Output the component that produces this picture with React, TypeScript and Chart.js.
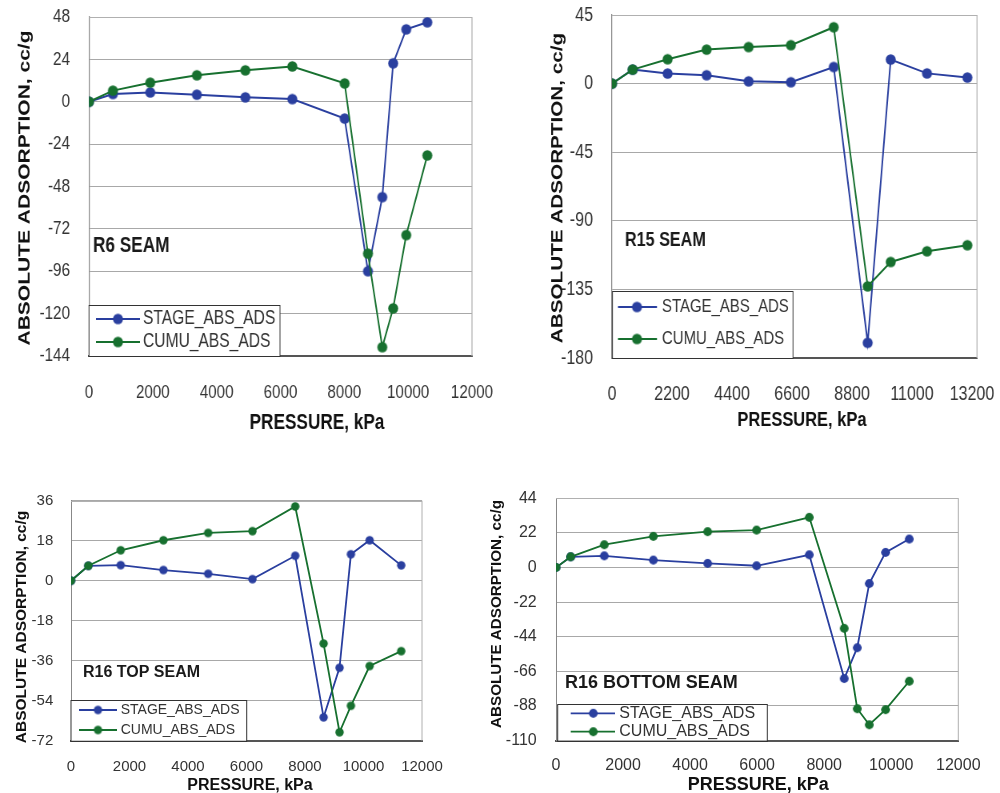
import React, { useEffect, useRef } from 'react';
import { Chart, registerables } from 'chart.js';

Chart.register(...registerables);

// ---------- DATA ----------
const r6Pressure = [0, 750, 1920, 3380, 4900, 6370, 8010, 8740, 9190, 9530, 9940, 10600];
const r6Stage = [0, 4.4, 5.3, 4, 2.5, 1.5, -9.5, -96, -54, 21.8, 41, 45];
const r6Cumu = [0, 6.3, 10.8, 15, 17.8, 20, 10.4, -86, -139, -117, -75.5, -30.4];

const r15Pressure = [0, 758, 2040, 3470, 5010, 6560, 8130, 9375, 10220, 11550, 13030];
const r15Stage = [0, 9.2, 6.6, 5.5, 1.5, 0.9, 10.9, -170, 15.8, 6.7, 4.0];
const r15Cumu = [0, 9.2, 16, 22.3, 24, 25.2, 37, -133, -117, -110, -106];

const r16TopPressure = [0, 593, 1700, 3160, 4690, 6205, 7665, 8635, 9180, 9570, 10210, 11290];
const r16TopStage = [0, 6.7, 7.0, 4.8, 3.1, 0.7, 11.2, -61.5, -39.2, 11.9, 18.2, 6.9];
const r16TopCumu = [0, 6.7, 13.7, 18.2, 21.5, 22.3, 33.4, -28.3, -68.2, -56.3, -38.4, -31.7];

const r16BotPressure = [0, 437, 1441, 2903, 4523, 5984, 7555, 8598, 8986, 9344, 9831, 10537];
const r16BotStage = [0, 6.8, 7.4, 4.7, 2.6, 1.1, 8.1, -70.6, -51, -10.2, 9.6, 18.1];
const r16BotCumu = [0, 6.8, 14.5, 19.8, 22.8, 23.8, 31.9, -38.7, -89.8, -100, -90.4, -72.3];

// tick values
const xTicks12000 = [0, 2000, 4000, 6000, 8000, 10000, 12000];
const xTicks13200 = [0, 2200, 4400, 6600, 8800, 11000, 13200];
const r6YTicks = [-144, -120, -96, -72, -48, -24, 0, 24, 48];
const r15YTicks = [-180, -135, -90, -45, 0, 45];
const r16TopYTicks = [-72, -54, -36, -18, 0, 18, 36];
const r16BotYTicks = [-110, -88, -66, -44, -22, 0, 22, 44];

const seriesNames = ['STAGE_ABS_ADS', 'CUMU_ABS_ADS'];
const yTitleText = 'ABSOLUTE ADSORPTION, cc/g';
const xTitleText = 'PRESSURE, kPa';

// ---------- STYLE ----------
const BLUE = '#2a3f9f';
const GREEN = '#17702f';
const TICK = '#333333';
const CLEAR = 'rgba(0,0,0,0)';
const SANS = '"Liberation Sans", Arial, Helvetica, sans-serif';

type Panel = {
  left: number; top: number; w: number; h: number; sx: number;
  area: { l: number; r: number; t: number; b: number };
  borderRight: number;
  pressure: number[]; stage: number[]; cumu: number[];
  xTicks: number[]; xMax: number; yTicks: number[];
  tickSize: number; xPad: number; yPad: number;
  yTitle: { x: number; y: number; size: number };
  xTitle: { x: number; y: number; size: number };
  seam: { text: string; x: number; y: number; size: number };
  legend: { box: number[]; rows: number[]; line: number[]; marker: number; textX: number; size: number };
  mrx: number; mry: number; lw: number;
};

const panels: Panel[] = [
  {
    left: 0, top: 0, w: 500, h: 440, sx: 0.8,
    area: { l: 89, r: 472, t: 17, b: 356 }, borderRight: 472,
    pressure: r6Pressure, stage: r6Stage, cumu: r6Cumu,
    xTicks: xTicks12000, xMax: 12000, yTicks: r6YTicks,
    tickSize: 19, xPad: 25, yPad: 19,
    yTitle: { x: 25, y: 188, size: 21 },
    xTitle: { x: 317, y: 423, size: 21.5 },
    seam: { text: 'R6 SEAM', x: 93, y: 246, size: 21.5 },
    legend: { box: [89, 305, 280, 356], rows: [319, 342], line: [96, 140], marker: 118, textX: 143, size: 19.5 },
    mrx: 5, mry: 5.3, lw: 2,
  },
  {
    left: 500, top: 0, w: 500, h: 440, sx: 0.8,
    area: { l: 612, r: 977, t: 15, b: 358 }, borderRight: 977,
    pressure: r15Pressure, stage: r15Stage, cumu: r15Cumu,
    xTicks: xTicks13200, xMax: 13383, yTicks: r15YTicks,
    tickSize: 20, xPad: 24, yPad: 19,
    yTitle: { x: 558, y: 188, size: 20.7 },
    xTitle: { x: 802, y: 420, size: 20.6 },
    seam: { text: 'R15 SEAM', x: 625, y: 240, size: 20.2 },
    legend: { box: [612.5, 291, 793, 358], rows: [307, 339], line: [618, 657], marker: 637, textX: 662, size: 18.7 },
    mrx: 5, mry: 5.3, lw: 2,
  },
  {
    left: 0, top: 440, w: 500, h: 353, sx: 1,
    area: { l: 71, r: 422, t: 500.7, b: 740.7 }, borderRight: 422,
    pressure: r16TopPressure, stage: r16TopStage, cumu: r16TopCumu,
    xTicks: xTicks12000, xMax: 12000, yTicks: r16TopYTicks,
    tickSize: 15, xPad: 17.5, yPad: 17.7,
    yTitle: { x: 21.7, y: 627, size: 15.5 },
    xTitle: { x: 250, y: 786, size: 16 },
    seam: { text: 'R16 TOP SEAM', x: 83, y: 673, size: 16 },
    legend: { box: [71, 700, 246.7, 740.7], rows: [710, 730], line: [79, 117], marker: 98, textX: 120.7, size: 14 },
    mrx: 4.2, mry: 4.2, lw: 1.8,
  },
  {
    left: 480, top: 440, w: 520, h: 353, sx: 1,
    area: { l: 556, r: 958.3, t: 498.3, b: 740.5 }, borderRight: 958.3,
    pressure: r16BotPressure, stage: r16BotStage, cumu: r16BotCumu,
    xTicks: xTicks12000, xMax: 12000, yTicks: r16BotYTicks,
    tickSize: 16, xPad: 15.5, yPad: 19.3,
    yTitle: { x: 496.7, y: 614, size: 15.2 },
    xTitle: { x: 758.3, y: 785, size: 18 },
    seam: { text: 'R16 BOTTOM SEAM', x: 565, y: 683.3, size: 18 },
    legend: { box: [557.7, 704, 767.3, 740.5], rows: [713.3, 731.7], line: [570.7, 615], marker: 593.3, textX: 619.3, size: 16 },
    mrx: 4.4, mry: 4.4, lw: 1.8,
  },
];

// marker image that appears round after the horizontal CSS squash
function makeMarker(color: string, rx: number, ry: number) {
  const c = document.createElement('canvas');
  c.width = Math.ceil(rx * 2 + 2);
  c.height = Math.ceil(ry * 2 + 2);
  const g = c.getContext('2d')!;
  g.fillStyle = color;
  g.beginPath();
  g.ellipse(c.width / 2, c.height / 2, rx, ry, 0, 0, Math.PI * 2);
  g.fill();
  return c;
}

function makeExtras(p: Panel, markers: HTMLCanvasElement[]) {
  const X = (px: number) => (px - p.left) / p.sx;
  const Y = (py: number) => py - p.top;
  return {
    id: 'extras',
    beforeDatasetsDraw(chart: any) {
      const ctx = chart.ctx;
      const a = chart.chartArea;
      ctx.save();
      ctx.strokeStyle = '#b0b0b0';
      ctx.lineWidth = 1 / p.sx;
      ctx.beginPath();
      const rx = X(p.borderRight);
      ctx.moveTo(rx, a.top);
      ctx.lineTo(rx, a.bottom);
      ctx.stroke();
      ctx.lineWidth = 1;
      ctx.beginPath();
      ctx.moveTo(a.left, Math.round(a.top) + 0.5);
      ctx.lineTo(rx, Math.round(a.top) + 0.5);
      ctx.stroke();
      ctx.restore();
    },
    afterDraw(chart: any) {
      const ctx = chart.ctx;
      ctx.save();
      // y title
      ctx.save();
      ctx.translate(X(p.yTitle.x), Y(p.yTitle.y));
      ctx.rotate(-Math.PI / 2);
      ctx.font = `bold ${p.yTitle.size}px ${SANS}`;
      ctx.fillStyle = '#111';
      ctx.textAlign = 'center';
      ctx.textBaseline = 'middle';
      ctx.fillText(yTitleText, 0, 0);
      ctx.restore();
      // x title
      ctx.font = `bold ${p.xTitle.size}px ${SANS}`;
      ctx.fillStyle = '#111';
      ctx.textAlign = 'center';
      ctx.textBaseline = 'middle';
      ctx.fillText(xTitleText, X(p.xTitle.x), Y(p.xTitle.y));
      // seam label
      ctx.font = `bold ${p.seam.size}px ${SANS}`;
      ctx.textAlign = 'left';
      ctx.fillStyle = '#1a1a1a';
      ctx.fillText(p.seam.text, X(p.seam.x), Y(p.seam.y));
      // legend
      const [bx1, by1, bx2, by2] = p.legend.box;
      ctx.fillStyle = '#ffffff';
      ctx.fillRect(X(bx1), Y(by1), X(bx2) - X(bx1), Y(by2) - Y(by1));
      ctx.strokeStyle = '#333';
      ctx.lineWidth = 1;
      ctx.strokeRect(X(bx1), Math.round(Y(by1)) + 0.5, X(bx2) - X(bx1), Math.round(Y(by2) - Y(by1)));
      const colors = [BLUE, GREEN];
      seriesNames.forEach((name, i) => {
        const ry = Y(p.legend.rows[i]);
        ctx.strokeStyle = colors[i];
        ctx.lineWidth = p.lw;
        ctx.beginPath();
        ctx.moveTo(X(p.legend.line[0]), ry);
        ctx.lineTo(X(p.legend.line[1]), ry);
        ctx.stroke();
        const m = markers[i];
        ctx.drawImage(m, X(p.legend.marker) - m.width / 2, ry - m.height / 2);
        ctx.fillStyle = '#333';
        ctx.font = `${p.legend.size}px ${SANS}`;
        ctx.textAlign = 'left';
        ctx.textBaseline = 'middle';
        ctx.fillText(name, X(p.legend.textX), ry);
      });
      ctx.restore();
    },
  };
}

function PanelChart({ p }: { p: Panel }) {
  const ref = useRef<HTMLCanvasElement | null>(null);
  const iw = Math.round(p.w / p.sx);
  useEffect(() => {
    if (!ref.current) return;
    const toPts = (xs: number[], ys: number[]) => xs.map((x, i) => ({ x, y: ys[i] }));
    const tickFont = { family: SANS, size: p.tickSize };
    const areaL = (p.area.l - p.left) / p.sx;
    const areaR = (p.area.r - p.left) / p.sx;
    const areaT = p.area.t - p.top;
    const areaB = p.area.b - p.top;
    const markers = [
      makeMarker(BLUE, p.mrx / p.sx, p.mry),
      makeMarker(GREEN, p.mrx / p.sx, p.mry),
    ];
    const chart = new Chart(ref.current, {
      type: 'line',
      data: {
        datasets: [
          {
            label: seriesNames[0],
            data: toPts(p.pressure, p.stage),
            borderColor: BLUE, backgroundColor: BLUE,
            pointStyle: markers[0], pointRadius: p.mry, borderWidth: p.lw,
            tension: 0, order: 1,
          },
          {
            label: seriesNames[1],
            data: toPts(p.pressure, p.cumu),
            borderColor: GREEN, backgroundColor: GREEN,
            pointStyle: markers[1], pointRadius: p.mry, borderWidth: p.lw,
            tension: 0, order: 0,
          },
        ],
      },
      options: {
        responsive: false,
        animation: false,
        devicePixelRatio: 1,
        layout: { padding: { left: 0, top: areaT, right: iw - areaR, bottom: 0 } },
        plugins: { legend: { display: false }, tooltip: { enabled: false }, title: { display: false } },
        scales: {
          x: {
            type: 'linear', position: 'bottom', min: 0, max: p.xMax,
            afterBuildTicks: (s: any) => { s.ticks = p.xTicks.map((v) => ({ value: v })); },
            ticks: {
              autoSkip: false, maxRotation: 0, minRotation: 0,
              padding: 0, color: TICK, font: tickFont,
              callback: (v: any) => String(v),
            },
            grid: { display: true, drawOnChartArea: false, drawTicks: true, tickLength: p.xPad, tickColor: CLEAR, color: CLEAR },
            border: { display: true, color: '#555', width: 2 },
            afterFit: (s: any) => { s.height = p.h - areaB; },
          },
          y: {
            type: 'linear', min: p.yTicks[0], max: p.yTicks[p.yTicks.length - 1],
            afterBuildTicks: (s: any) => { s.ticks = p.yTicks.map((v) => ({ value: v })); },
            ticks: {
              autoSkip: false, padding: 0, color: TICK, font: tickFont,
              callback: (v: any) => String(v),
            },
            grid: { color: '#a8a8a8', lineWidth: 1, drawTicks: true, tickLength: p.yPad / p.sx, tickColor: CLEAR },
            border: { display: true, color: '#888', width: 1 / p.sx },
            afterFit: (s: any) => { s.width = areaL; },
          },
        },
      } as any,
      plugins: [makeExtras(p, markers)],
    });
    return () => chart.destroy();
  }, [p]);
  return (
    <canvas
      ref={ref}
      width={iw}
      height={p.h}
      style={{ position: 'absolute', left: p.left, top: p.top, width: p.w, height: p.h }}
    />
  );
}

export default function App() {
  return (
    <div style={{ position: 'absolute', left: 0, top: 0, width: 1000, height: 793, background: '#fff', overflow: 'hidden' }}>
      {panels.map((p, i) => (
        <PanelChart key={i} p={p} />
      ))}
    </div>
  );
}
